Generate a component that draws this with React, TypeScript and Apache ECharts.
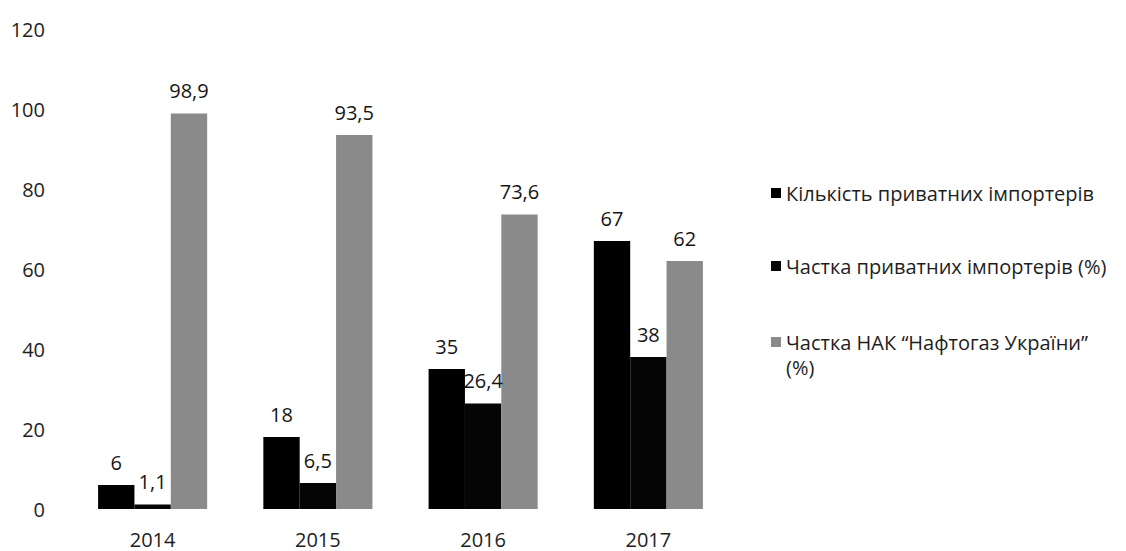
import React, { useEffect, useRef } from "react";
import * as echarts from "echarts";

const years = ["2014", "2015", "2016", "2017"];
const importersCount = [6, 18, 35, 67];
const importersShare = [1.1, 6.5, 26.4, 38];
const naftogazShare = [98.9, 93.5, 73.6, 62];
const seriesNames = [
  "Кількість приватних імпортерів",
  "Частка приватних імпортерів (%)",
  "Частка НАК “Нафтогаз України” (%)",
];
const FONT = "'Open Sans', 'Noto Sans', sans-serif";

export default function App() {
  const ref = useRef<HTMLDivElement>(null);
  useEffect(() => {
    document.body.style.margin = "0";
    const chart = echarts.init(ref.current!, null, { renderer: "svg" });
    const fmt = (p: any) => String(p.value).replace(".", ",");
    const label = {
      show: true,
      position: "top",
      distance: 13,
      formatter: fmt,
      color: "#151515",
      fontSize: 20,
      fontFamily: FONT,
    };
    const legendBase = {
      orient: "vertical",
      left: 766,
      itemWidth: 10,
      itemHeight: 10,
      icon: "rect",
      textStyle: { fontSize: 20, color: "#1e1e1e", fontFamily: FONT },
    };
    chart.setOption({
      animation: false,
      backgroundColor: "#fff",
      grid: { left: 70, right: 395, top: 29, bottom: 42 },
      xAxis: {
        type: "category",
        data: years,
        axisLine: { show: false },
        axisTick: { show: false },
        axisLabel: {
          fontSize: 20,
          lineHeight: 20,
          color: "#1e1e1e",
          fontFamily: FONT,
          margin: 20,
        },
      },
      yAxis: {
        type: "value",
        min: 0,
        max: 120,
        interval: 20,
        splitLine: { show: false },
        axisLine: { show: false },
        axisTick: { show: false },
        axisLabel: { fontSize: 20, color: "#1e1e1e", fontFamily: FONT, margin: 25 },
      },
      legend: [
        { ...legendBase, top: 178, data: [seriesNames[0]] },
        { ...legendBase, top: 251, data: [seriesNames[1]] },
        {
          ...legendBase,
          top: 327,
          data: [seriesNames[2]],
          formatter: () => "Частка НАК “Нафтогаз України”",
        },
      ],
      graphic: [
        {
          type: "text",
          left: 786,
          top: 357,
          style: { text: "(%)", fontSize: 20, fill: "#1e1e1e", fontFamily: FONT },
        },
      ],
      series: [
        {
          name: seriesNames[0],
          type: "bar",
          data: importersCount,
          barGap: "0%",
          barCategoryGap: "34%",
          itemStyle: { color: "#000" },
          label,
        },
        {
          name: seriesNames[1],
          type: "bar",
          data: importersShare,
          barGap: "0%",
          barCategoryGap: "34%",
          itemStyle: { color: "#050505" },
          label,
        },
        {
          name: seriesNames[2],
          type: "bar",
          data: naftogazShare,
          barGap: "0%",
          barCategoryGap: "34%",
          itemStyle: { color: "#8a8a8a" },
          label,
        },
      ],
    });
    return () => chart.dispose();
  }, []);
  return <div ref={ref} style={{ width: 1126, height: 551 }} />;
}
